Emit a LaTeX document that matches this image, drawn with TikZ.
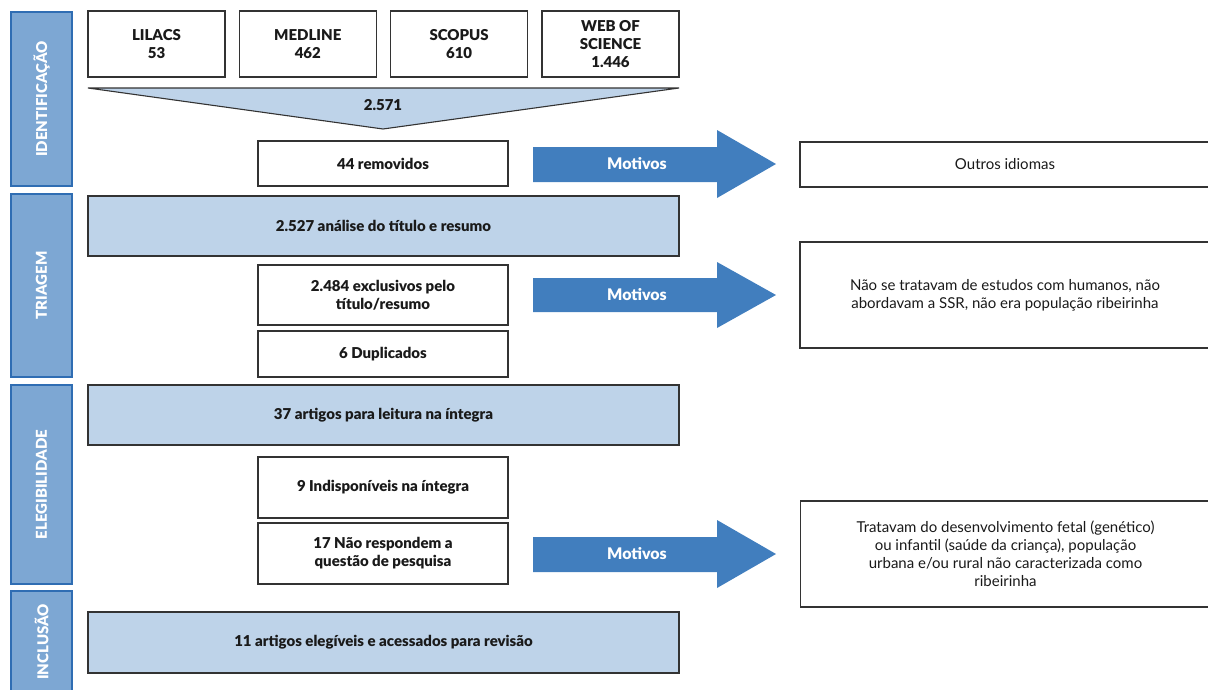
\documentclass[tikz,border=0pt]{standalone}
\usepackage{fontspec}
\setmainfont{Lato}[BoldFont={Lato Black}]
\usepackage{tikz}

\definecolor{faseazul}{HTML}{7DA7D3}
\definecolor{faseborda}{HTML}{2F6DB3}
\definecolor{claroazul}{HTML}{BED3E9}
\definecolor{setaazul}{HTML}{417EBE}
\definecolor{tinta}{HTML}{1A1A1A}

\tikzset{
  caixa/.style={shape=rectangle, draw=black!80, line width=1.1pt, fill=white, text=tinta,
    align=center, inner sep=2pt, font=\bfseries\fontsize{15}{18}\selectfont},
  faixa/.style={caixa, fill=claroazul, minimum width=591pt},
  nota/.style={caixa, font=\fontsize{15}{18}\selectfont, minimum width=410pt},
  fase/.style={shape=rectangle, draw=faseborda, line width=1.2pt, fill=faseazul, text=white,
    rotate=90, minimum height=61pt, font=\bfseries\fontsize{15}{18}\selectfont},
  seta/.style={fill=setaazul},
  motivo/.style={text=white, font=\bfseries\fontsize{16}{18}\selectfont}
}

\begin{document}
\begin{tikzpicture}[x=1pt, y=-1pt]
	\useasboundingbox (0,0) rectangle (1208,689);
	
	% fases
	\node[fase, minimum width=174pt] (ident) at (41.5, 99)   {IDENTIFICAÇÃO};
	\node[fase, minimum width=183pt] (triag) at (41.5, 285.5) {TRIAGEM};
	\node[fase, minimum width=199pt] (eleg)  at (41.5, 484.5) {ELEGIBILIDADE};
	\node[fase, minimum width=102pt] (incl)  at (41.5, 642)   {INCLUSÃO};
	
	% bases
	\node[caixa, minimum width=137pt, minimum height=66pt] (lilacs)  at (156.5, 44) {LILACS\\53};
	\node[caixa, minimum width=137pt, minimum height=66pt] (medline) at (307.8, 44) {MEDLINE\\462};
	\node[caixa, minimum width=137pt, minimum height=66pt] (scopus)  at (459.1, 44) {SCOPUS\\610};
	\node[caixa, minimum width=137pt, minimum height=66pt] (wos)     at (610.5, 44) {WEB OF\\SCIENCE\\1.446};
	
	\filldraw[fill=claroazul, draw=black!80, line width=1.1pt] (88, 88) -- (679, 88) -- (383, 129) -- cycle;
	\node[text=tinta, font=\bfseries\fontsize{15}{18}\selectfont] (total) at (383, 105) {2.571};
	
	\node[caixa, minimum width=250pt, minimum height=45pt] (remov) at (383, 163.5) {44 removidos};
	\node[nota, minimum height=45pt] (idiomas) at (1005, 164.5) {Outros idiomas};
	
	\node[faixa, minimum height=60pt] (analise) at (383.5, 226) {2.527 análise do título e resumo};
	\node[caixa, minimum width=250pt, minimum height=60pt] (exclus) at (383, 295) {2.484 exclusivos pelo\\título/resumo};
	\node[caixa, minimum width=250pt, minimum height=46pt] (duplic) at (383, 354) {6 Duplicados};
	\node[nota, minimum height=106pt] (humanos) at (1005, 295) {Não se tratavam de estudos com humanos, não\\abordavam a SSR, não era população ribeirinha};
	
	\node[faixa, minimum height=60pt] (leitura) at (383.5, 415) {37 artigos para leitura na íntegra};
	\node[caixa, minimum width=250pt, minimum height=61pt] (indisp) at (383, 487.5) {9 Indisponíveis na íntegra};
	\node[caixa, minimum width=250pt, minimum height=61pt] (naoresp) at (383, 553.5) {17 Não respondem a\\questão de pesquisa};
	\node[nota, minimum height=106pt] (fetal) at (1005.5, 554) {Tratavam do desenvolvimento fetal (genético)\\ou infantil (saúde da criança), população\\urbana e/ou rural não caracterizada como\\ribeirinha};
	
	\node[faixa, minimum height=61pt] (elegiv) at (383.5, 642.5) {11 artigos elegíveis e acessados para revisão};
	
	% setas
	\fill[seta] (533, 147) -- (717, 147) -- (717, 130) -- (776, 164) -- (717, 198) -- (717, 182) -- (533, 182) -- cycle;
	\node[motivo] (mot1) at (637, 164) {Motivos};
	\fill[seta] (533, 278) -- (717, 278) -- (717, 262) -- (776, 295) -- (717, 328) -- (717, 312) -- (533, 312) -- cycle;
	\node[motivo] (mot2) at (637, 295) {Motivos};
	\fill[seta] (533, 537) -- (717, 537) -- (717, 520) -- (776, 554) -- (717, 588) -- (717, 572) -- (533, 572) -- cycle;
	\node[motivo] (mot3) at (637, 554) {Motivos};
	
\end{tikzpicture}
\end{document}
